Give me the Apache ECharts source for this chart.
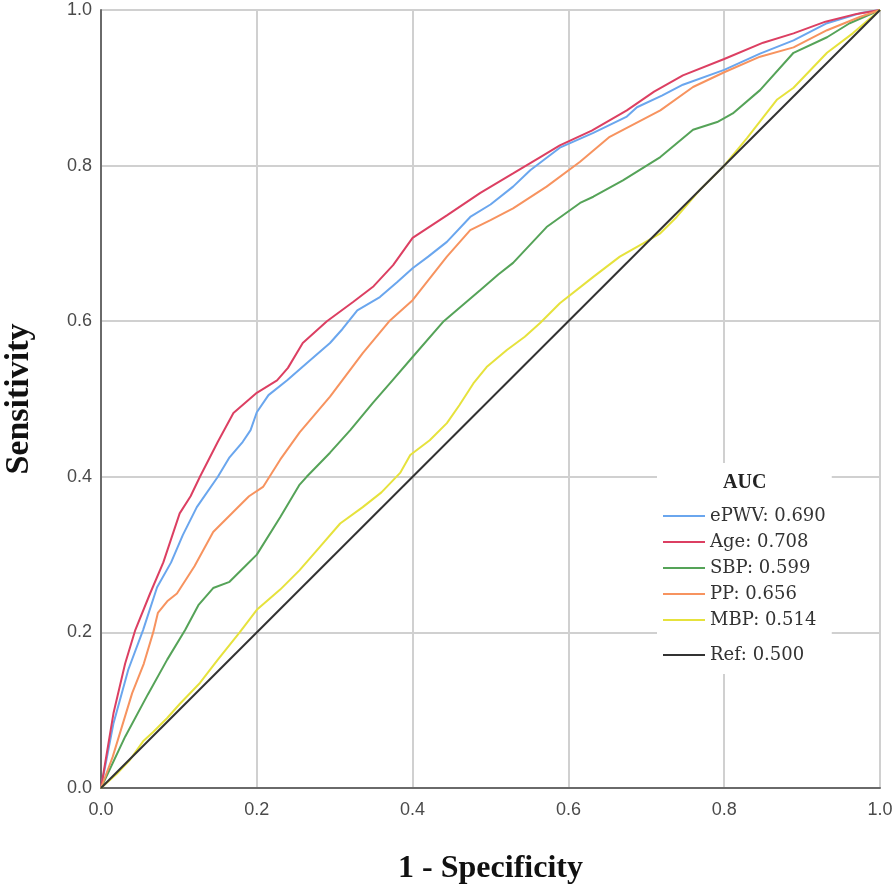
<!DOCTYPE html>
<html>
<head>
<meta charset="utf-8">
<script src="https://cdn.jsdelivr.net/npm/echarts@6/dist/echarts.min.js"></script>
<style>html,body{margin:0;padding:0;background:#fff}#c{width:896px;height:887px}</style>
</head>
<body>
<div id="c"></div>
<script>
const seriesNames = ['ePWV', 'Age', 'SBP', 'PP', 'MBP'];
const aucValues = ['0.690', '0.708', '0.599', '0.656', '0.514'];
const refName = 'Ref';
const refAuc = '0.500';
const xTicks = [0, 0.2, 0.4, 0.6, 0.8, 1.0];

const ePWV = [[0,0],[0.016,0.083],[0.035,0.152],[0.054,0.203],[0.072,0.258],[0.09,0.29],[0.105,0.325],[0.123,0.361],[0.15,0.4],[0.165,0.425],[0.182,0.445],[0.192,0.46],[0.2,0.483],[0.215,0.505],[0.239,0.524],[0.264,0.546],[0.294,0.572],[0.31,0.59],[0.329,0.614],[0.358,0.631],[0.38,0.65],[0.4,0.668],[0.42,0.683],[0.444,0.702],[0.474,0.734],[0.5,0.75],[0.529,0.773],[0.551,0.794],[0.589,0.823],[0.632,0.842],[0.675,0.863],[0.688,0.875],[0.72,0.89],[0.747,0.904],[0.8,0.923],[0.846,0.944],[0.889,0.961],[0.932,0.983],[0.975,0.996],[1,1]];
const age = [[0,0],[0.016,0.096],[0.031,0.16],[0.044,0.203],[0.063,0.25],[0.08,0.29],[0.101,0.353],[0.115,0.375],[0.127,0.4],[0.15,0.445],[0.17,0.482],[0.2,0.508],[0.226,0.524],[0.24,0.54],[0.259,0.572],[0.29,0.60],[0.324,0.625],[0.35,0.645],[0.375,0.672],[0.4,0.707],[0.444,0.736],[0.487,0.765],[0.529,0.79],[0.564,0.811],[0.589,0.826],[0.63,0.845],[0.675,0.871],[0.71,0.895],[0.747,0.916],[0.8,0.937],[0.85,0.958],[0.889,0.970],[0.93,0.985],[0.97,0.995],[1,1]];
const sbp = [[0,0],[0.031,0.066],[0.06,0.12],[0.085,0.165],[0.108,0.203],[0.125,0.235],[0.144,0.257],[0.165,0.265],[0.185,0.285],[0.2,0.30],[0.23,0.348],[0.255,0.39],[0.264,0.4],[0.294,0.431],[0.32,0.46],[0.349,0.495],[0.375,0.525],[0.4,0.554],[0.44,0.6],[0.487,0.64],[0.51,0.66],[0.529,0.675],[0.572,0.721],[0.615,0.752],[0.632,0.76],[0.67,0.781],[0.718,0.811],[0.76,0.846],[0.791,0.856],[0.811,0.867],[0.846,0.897],[0.889,0.945],[0.932,0.965],[0.961,0.983],[1,1]];
const pp = [[0,0],[0.015,0.04],[0.04,0.122],[0.055,0.16],[0.067,0.2],[0.073,0.225],[0.085,0.24],[0.0975,0.25],[0.12,0.285],[0.144,0.329],[0.17,0.355],[0.19,0.375],[0.208,0.387],[0.23,0.422],[0.255,0.457],[0.294,0.503],[0.336,0.559],[0.371,0.601],[0.4,0.627],[0.444,0.683],[0.474,0.717],[0.5,0.73],[0.529,0.745],[0.572,0.773],[0.615,0.805],[0.653,0.837],[0.718,0.871],[0.76,0.901],[0.8,0.92],[0.846,0.94],[0.889,0.952],[0.932,0.974],[0.974,0.991],[1,1]];
const mbp = [[0,0],[0.02,0.018],[0.037,0.036],[0.054,0.06],[0.067,0.072],[0.085,0.09],[0.101,0.108],[0.127,0.135],[0.15,0.165],[0.178,0.2],[0.2,0.229],[0.23,0.255],[0.255,0.28],[0.281,0.31],[0.307,0.34],[0.336,0.361],[0.36,0.38],[0.384,0.405],[0.397,0.428],[0.422,0.447],[0.444,0.469],[0.46,0.492],[0.478,0.52],[0.495,0.541],[0.521,0.563],[0.544,0.58],[0.564,0.598],[0.589,0.623],[0.632,0.657],[0.666,0.683],[0.696,0.7],[0.718,0.713],[0.739,0.734],[0.769,0.769],[0.8,0.8],[0.829,0.835],[0.868,0.885],[0.889,0.9],[0.932,0.945],[0.965,0.97],[1,1]];
const ref = [[0,0],[1,1]];

const seriesData = [ePWV, age, sbp, pp, mbp];
const colors = ['#6aa6ee', '#dc3f62', '#55a358', '#f7935f', '#e6e23c'];

const chart = echarts.init(document.getElementById('c'));
const aucMap = {};
seriesNames.forEach((n, i) => aucMap[n] = aucValues[i]);
aucMap[refName] = refAuc;

const series = seriesNames.map((n, i) => ({
  name: n, type: 'line', data: seriesData[i], showSymbol: false, symbol: 'none',
  lineStyle: { color: colors[i], width: 2 }, itemStyle: { color: colors[i] },
  animation: false, z: 2
}));
series.push({
  name: refName, type: 'line', data: ref, showSymbol: false, symbol: 'none',
  lineStyle: { color: '#333333', width: 2 }, itemStyle: { color: '#333333' },
  animation: false, z: 3
});

const legendText = { fontFamily: 'DejaVu Serif', fontSize: 18, color: '#333', lineHeight: 20 };
const tickText = { fontFamily: 'Liberation Sans', fontSize: 18, color: '#4a4a4a' };

chart.setOption({
  backgroundColor: '#fff',
  animation: false,
  title: {
    text: 'AUC', left: 718, top: 468,
    textStyle: { fontFamily: 'Liberation Serif', fontWeight: 'bold', fontSize: 20, color: '#222' }
  },
  grid: { left: 101, top: 10, right: 16, bottom: 99, containLabel: false, outerBoundsMode: 'none' },
  legend: [
    {
      data: seriesNames, orient: 'vertical', left: 657, top: 463,
      padding: [43, 6, 44, 6], backgroundColor: '#fff',
      itemWidth: 42, itemHeight: 2, icon: 'rect', itemGap: 6,
      textStyle: legendText,
      formatter: n => n + ': ' + aucMap[n], selectedMode: false, z: 4
    },
    {
      data: [refName], orient: 'vertical', left: 663, top: 645,
      padding: 0,
      itemWidth: 42, itemHeight: 2, icon: 'rect',
      textStyle: legendText,
      formatter: n => n + ': ' + aucMap[n], selectedMode: false, z: 5
    }
  ],
  xAxis: {
    type: 'value', min: 0, max: 1, interval: 0.2,
    name: '1 - Specificity', nameLocation: 'middle', nameGap: 65,
    nameTextStyle: { fontFamily: 'Liberation Serif', fontWeight: 'bold', fontSize: 32, color: '#111' },
    axisLine: { show: true, onZero: false, lineStyle: { color: '#6a6a6a', width: 2 } },
    axisTick: { show: false },
    axisLabel: Object.assign({ formatter: v => v.toFixed(1), margin: 13 }, tickText),
    splitLine: { show: true, lineStyle: { color: '#d0d0d0', width: 2 } }
  },
  yAxis: {
    type: 'value', min: 0, max: 1, interval: 0.2,
    name: 'Sensitivity', nameLocation: 'middle', nameGap: 65,
    nameTextStyle: { fontFamily: 'Liberation Serif', fontWeight: 'bold', fontSize: 34, color: '#111' },
    axisLine: { show: true, onZero: false, lineStyle: { color: '#6a6a6a', width: 2 } },
    axisTick: { show: false },
    axisLabel: Object.assign({ formatter: v => v.toFixed(1), margin: 9, padding: [5, 0, 0, 0] }, tickText),
    splitLine: { show: true, lineStyle: { color: '#d0d0d0', width: 2 } }
  },
  series: series
});
</script>
</body>
</html>
